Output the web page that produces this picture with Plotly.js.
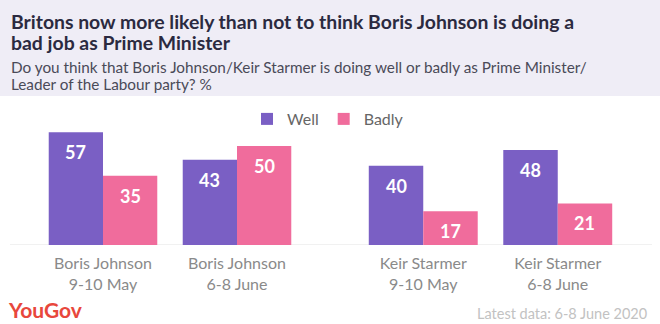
<!DOCTYPE html>
<html>
<head>
<meta charset="utf-8">
<script src="https://cdn.plot.ly/plotly-3.0.1.min.js"></script>
<style>html,body{margin:0;padding:0;background:#fff;}#chart{width:660px;height:324px;}</style>
</head>
<body>
<div id="chart"></div>
<script>
// Data
const groupsLeft = ["Boris Johnson<br>9-10 May", "Boris Johnson<br>6-8 June"];
const groupsRight = ["Keir Starmer<br>9-10 May", "Keir Starmer<br>6-8 June"];
const wellLeft = [57, 43];
const badlyLeft = [35, 50];
const wellRight = [40, 48];
const badlyRight = [17, 21];
const seriesNames = ["Well", "Badly"];

const purple = "#7a5fc4";
const pink = "#f06c9c";
const FONT = "Lato, 'Open Sans', sans-serif";
const labelFont = {family: FONT, size: 18, color: "#ffffff", weight: 700};
const BARGAP = 0.19;

function bar(x, y, name, color, xa, showlegend) {
  return {
    type: "bar", x: x, y: y, name: name, xaxis: xa, yaxis: "y",
    marker: {color: color}, showlegend: showlegend,
    hoverinfo: "skip", legendgroup: name
  };
}

const data = [
  bar(groupsLeft, wellLeft, seriesNames[0], purple, "x", true),
  bar(groupsLeft, badlyLeft, seriesNames[1], pink, "x", true),
  bar(groupsRight, wellRight, seriesNames[0], purple, "x2", false),
  bar(groupsRight, badlyRight, seriesNames[1], pink, "x2", false)
];

const W = 660, H = 324, mt = 100, mb = 79;
const ph = H - mt - mb;
function py(pix) { return (H - mb - pix) / ph; }

// value labels placed inside bar tops, derived from the data arrays
const half = (1 - BARGAP) / 4;
function valueLabels(vals, xa, offset) {
  return vals.map((v, i) => ({
    text: "<b>" + v + "</b>", xref: xa, yref: "y", x: i + offset, y: v,
    yanchor: "middle", xanchor: "center", yshift: -20, showarrow: false, font: labelFont
  }));
}

const tickFont = {family: FONT, size: 16, color: "#8a8a8a"};
const xbase = {type: "category", showgrid: false, zeroline: false, showline: false, ticks: "",
  tickfont: tickFont, range: [-0.5, 1.5], fixedrange: true, ticklabelstandoff: 7};

const layout = {
  width: W, height: H,
  margin: {l: 0, r: 0, t: mt, b: mb, pad: 0},
  paper_bgcolor: "#ffffff", plot_bgcolor: "rgba(0,0,0,0)",
  barmode: "group", bargap: BARGAP, bargroupgap: 0,
  font: {family: FONT},
  xaxis: Object.assign({}, xbase, {domain: [36 / W, 304 / W], anchor: "y"}),
  xaxis2: Object.assign({}, xbase, {domain: [356 / W, 625 / W], anchor: "y"}),
  yaxis: {range: [0, ph / 1.98], visible: false, fixedrange: true},
  showlegend: true,
  legend: {orientation: "h", x: 0.497, xanchor: "center", y: py(119), yanchor: "middle",
    font: {family: FONT, size: 16, color: "#666"}, bgcolor: "rgba(0,0,0,0)", traceorder: "normal"},
  shapes: [
    {type: "rect", xref: "paper", yref: "paper", x0: 0, x1: 1, y0: py(96), y1: py(0),
      fillcolor: "#efedf6", line: {width: 0}, layer: "below"},
    {type: "line", xref: "paper", yref: "y", x0: 10 / W, x1: 652 / W, y0: 0, y1: 0,
      line: {color: "#e2e2e2", width: 1}, layer: "below"}
  ],
  annotations: [
    {text: "<b>Britons now more likely than not to think Boris Johnson is doing a</b>", xref: "paper", yref: "paper",
      x: 9 / W, y: py(21), xanchor: "left", yanchor: "middle", showarrow: false,
      font: {family: FONT, size: 19.4, color: "#2b2a40"}},
    {text: "<b>bad job as Prime Minister</b>", xref: "paper", yref: "paper",
      x: 9 / W, y: py(42), xanchor: "left", yanchor: "middle", showarrow: false,
      font: {family: FONT, size: 19.4, color: "#2b2a40"}},
    {text: "Do you think that Boris Johnson/Keir Starmer is doing well or badly as Prime Minister/", xref: "paper", yref: "paper",
      x: 9 / W, y: py(67), xanchor: "left", yanchor: "middle", showarrow: false,
      font: {family: FONT, size: 15.3, color: "#4a4a58"}},
    {text: "Leader of the Labour party? %", xref: "paper", yref: "paper",
      x: 9 / W, y: py(84), xanchor: "left", yanchor: "middle", showarrow: false,
      font: {family: FONT, size: 15.3, color: "#4a4a58"}},
    {text: "<b>YouGov</b>", xref: "paper", yref: "paper",
      x: 6 / W, y: py(309), xanchor: "left", yanchor: "middle", showarrow: false,
      font: {family: FONT, size: 21, color: "#e8473c"}},
    {text: "Latest data: 6-8 June 2020", xref: "paper", yref: "paper",
      x: 649 / W, y: py(313), xanchor: "right", yanchor: "middle", showarrow: false,
      font: {family: FONT, size: 14.5, color: "#c2c2c2"}}
  ].concat(
    valueLabels(wellLeft, "x", -half),
    valueLabels(badlyLeft, "x", half),
    valueLabels(wellRight, "x2", -half),
    valueLabels(badlyRight, "x2", half)
  )
};

Plotly.newPlot("chart", data, layout, {displayModeBar: false, staticPlot: true});
</script>
</body>
</html>
